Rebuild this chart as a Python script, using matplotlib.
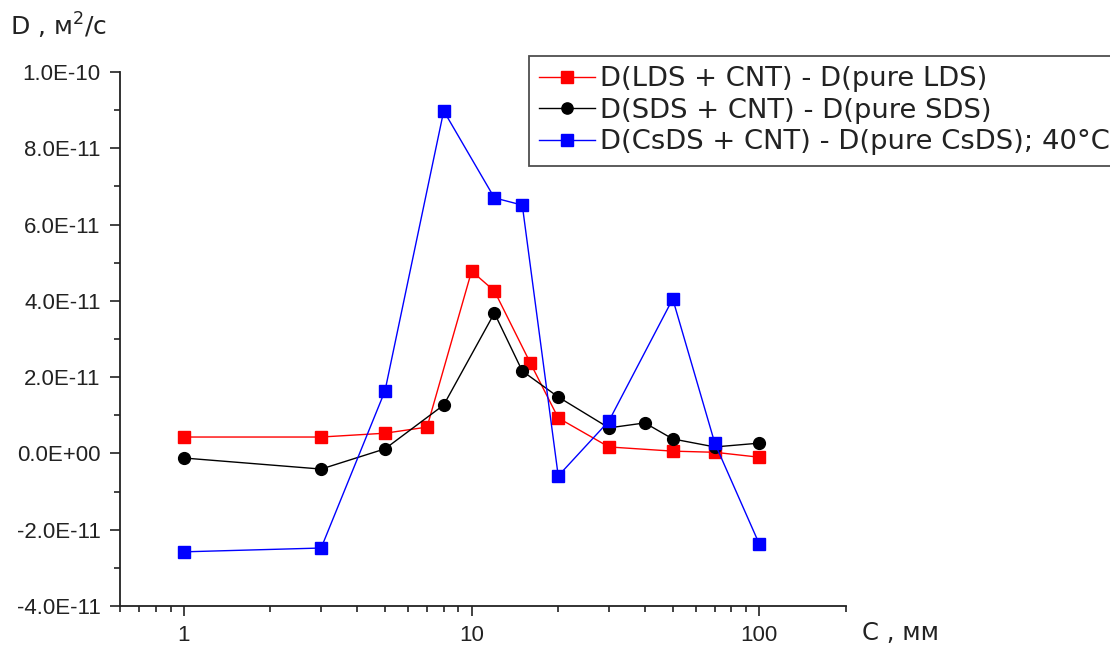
import matplotlib
matplotlib.use("Agg")
import matplotlib.pyplot as plt
from matplotlib.ticker import FixedLocator, LogLocator, NullFormatter

plt.rcParams['font.family'] = ['Liberation Sans', 'DejaVu Sans']
plt.rcParams['mathtext.fontset'] = 'custom'
plt.rcParams['mathtext.rm'] = 'DejaVu Sans'
plt.rcParams['mathtext.it'] = 'DejaVu Sans'

# Data (concentration in mM, D difference in m^2/s)
c_lds = [1, 3, 5, 7, 10, 12, 16, 20, 30, 50, 70, 100]
d_lds = [0.43e-11, 0.43e-11, 0.53e-11, 0.69e-11, 4.78e-11, 4.26e-11, 2.37e-11,
         0.93e-11, 0.17e-11, 0.06e-11, 0.03e-11, -0.10e-11]

c_sds = [1, 3, 5, 8, 12, 15, 20, 30, 40, 50, 70, 100]
d_sds = [-0.12e-11, -0.41e-11, 0.12e-11, 1.27e-11, 3.68e-11, 2.16e-11, 1.48e-11,
         0.67e-11, 0.80e-11, 0.38e-11, 0.17e-11, 0.27e-11]

c_csds = [1, 3, 5, 8, 12, 15, 20, 30, 50, 70, 100]
d_csds = [-2.58e-11, -2.48e-11, 1.64e-11, 8.98e-11, 6.70e-11, 6.51e-11, -0.59e-11,
          0.85e-11, 4.05e-11, 0.27e-11, -2.38e-11]

labels = ["D(LDS + CNT) - D(pure LDS)",
          "D(SDS + CNT) - D(pure SDS)",
          "D(CsDS + CNT) - D(pure CsDS); 40°C"]

y_ticks = [1.0e-10, 8.0e-11, 6.0e-11, 4.0e-11, 2.0e-11, 0.0, -2.0e-11, -4.0e-11]
y_tick_labels = ["1.0E-10", "8.0E-11", "6.0E-11", "4.0E-11", "2.0E-11",
                 "0.0E+00", "-2.0E-11", "-4.0E-11"]
x_ticks = [1, 10, 100]
x_tick_labels = ["1", "10", "100"]

fig = plt.figure(figsize=(11.10, 6.52), dpi=100)
ax = fig.add_axes([120/1110, 46/652, (846-120)/1110, (606-72)/652])

ms = 8.5
l1, = ax.plot(c_lds, d_lds, '-s', color='#ff0000', lw=1.0, ms=ms, mec='#ff0000', mfc='#ff0000', label=labels[0])
l2, = ax.plot(c_sds, d_sds, '-o', color='#000000', lw=1.0, ms=ms, label=labels[1])
l3, = ax.plot(c_csds, d_csds, '-s', color='#0000ff', lw=1.0, ms=ms, mec='#0000ff', mfc='#0000ff', label=labels[2])

ax.set_xscale('log')
ax.set_xlim(0.6, 200)
ax.set_ylim(-4.0e-11, 1.0e-10)

ax.xaxis.set_major_locator(FixedLocator(x_ticks))
ax.set_xticklabels(x_tick_labels)
ax.xaxis.set_minor_locator(LogLocator(base=10, subs=[2, 3, 4, 5, 6, 7, 8, 9]))
ax.xaxis.set_minor_formatter(NullFormatter())

ax.yaxis.set_major_locator(FixedLocator(y_ticks))
ax.set_yticklabels(y_tick_labels)
ax.yaxis.set_minor_locator(FixedLocator([v * 1e-11 for v in range(-3, 10, 2)]))

for s in ['top', 'right']:
    ax.spines[s].set_visible(False)
for s in ['left', 'bottom']:
    ax.spines[s].set_linewidth(1.3)
    ax.spines[s].set_color('#222222')

ax.tick_params(axis='both', which='major', direction='out', length=7, width=1.2,
               labelsize=16, pad=7, colors='#222222', labelcolor='#222222')
ax.tick_params(axis='both', which='minor', direction='out', length=4, width=1.2, colors='#222222')
ax.tick_params(axis='x', which='major', pad=7)

fig.text(10/1110, 1 - 26/652, r"D , м$^2$/с", fontsize=18, family='DejaVu Sans',
         ha='left', va='center', color='#222222')
fig.text(862/1110, 1 - 633/652, "С , мм", fontsize=17.5, family='DejaVu Sans',
         ha='left', va='center', color='#222222')

leg = fig.legend(handles=[l1, l2, l3], loc='upper left',
                 bbox_to_anchor=(529/1110, 1 - 56/652), bbox_transform=fig.transFigure,
                 prop={'family': 'DejaVu Sans', 'size': 19.7},
                 frameon=True, fancybox=False, edgecolor='#222222',
                 handlelength=2.05, handletextpad=0.15, labelspacing=0.2,
                 borderpad=0.38, borderaxespad=0, markerscale=0.95)
leg.get_frame().set_linewidth(1.3)
for t in leg.get_texts():
    t.set_color('#222222')

fig.savefig("out.png", dpi=100)
